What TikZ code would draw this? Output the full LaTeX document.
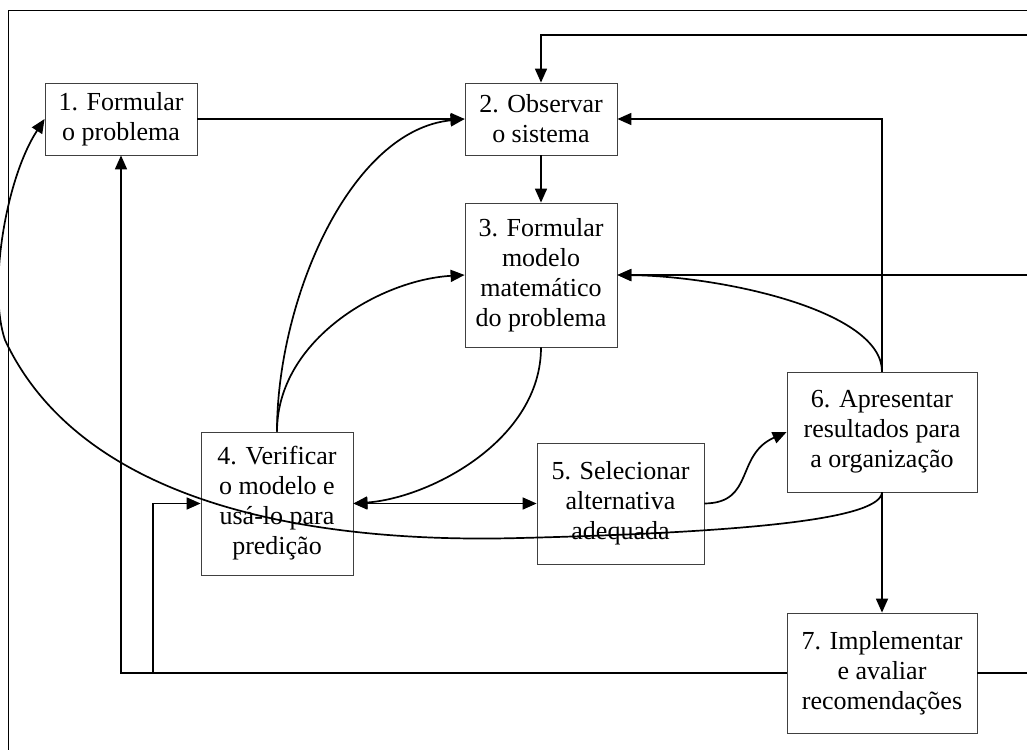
\documentclass[tikz,border=0pt]{standalone}
\usepackage{fontspec}
\setmainfont{Liberation Serif}
\usetikzlibrary{arrows.meta,calc}
\tikzset{>={Triangle[length=14pt,width=12pt]}}
\tikzset{
  etapa/.style={draw=black!75, line width=0.8pt, align=center, inner sep=0pt, font=\fontsize{26}{30}\selectfont},
  liga/.style={line width=1.7pt}
}

\begin{document}
\begin{tikzpicture}[x=1pt,y=-1pt]
  \useasboundingbox (0,0) rectangle (1027,749);
  % moldura
  \draw[line width=1pt] (8,770) -- (8,11) -- (1060,11);
  % etapas
  \node (E1) at (121,119) [etapa, minimum width=152pt, minimum height=72pt] {1. Formular\\o problema};
  \node (E2) at (541,119) [etapa, minimum width=152pt, minimum height=72pt] {2. Observar\\o sistema};
  \node (E3) at (541,275) [etapa, minimum width=152pt, minimum height=144pt] {3. Formular\\modelo\\matemático\\do problema};
  \node (E4) at (277,503.5) [etapa, minimum width=152pt, minimum height=143pt] {4. Verificar\\o modelo e\\usá-lo para\\predição};
  \node (E5) at (620.5,503.5) [etapa, minimum width=167pt, minimum height=121pt] {5. Selecionar\\alternativa\\adequada};
  \node (E6) at (882,432) [etapa, minimum width=190pt, minimum height=120pt] {6. Apresentar\\resultados para\\a organização};
  \node (E7) at (882,673) [etapa, minimum width=190pt, minimum height=120pt] {7. Implementar\\e avaliar\\recomendações};
  % pontos de apoio
  \coordinate (D) at ($(E7.east)+(68,0)$);
  \coordinate (B) at (E7.west -| 153,0);
  % ligacoes diretas
  \draw[liga,->] (E1.east) -- (E2.west);
  \draw[liga,->] (E2.south) -- (E3.north);
  \draw[liga,->] (E6.south) -- (E7.north);
  \draw[liga,<->] (E4.east) -- (E5.west);
  \draw[liga,->] (E6.north) |- (E2.east);
  % retornos pela direita
  \draw[liga] (E7.east) -- (D);
  \draw[liga,->] (D) -- (D |- 0,35) -| (E2.north);
  \draw[liga,->] (D |- E3.east) -- (E3.east);
  % retornos por baixo
  \draw[liga,->] (E7.west) -| (E1.south);
  \draw[liga,->] (B) |- (E4.west);
  % curvas
  \draw[liga,->] (E6.north) .. controls (882,310) and (720,276) .. (E3.east);
  \draw[liga,->] (E3.south) .. controls (541,440) and (430,498) .. (E4.east);
  \draw[liga,->] (E4.north) .. controls (277,300) and (350,130) .. (E2.west);
  \draw[liga,->] (E4.north) .. controls (277,340) and (380,280) .. (E3.west);
  \draw[liga,->] (E5.east) .. controls (755,503) and (735,455) .. (E6.west);
  \draw[liga,->] (E6.south) .. controls (880,518) and (760,532) .. (520,538)
    .. controls (300,544) and (80,500) .. (5,340)
    .. controls (-12,290) and (5,180) .. (E1.west);
\end{tikzpicture}
\end{document}
